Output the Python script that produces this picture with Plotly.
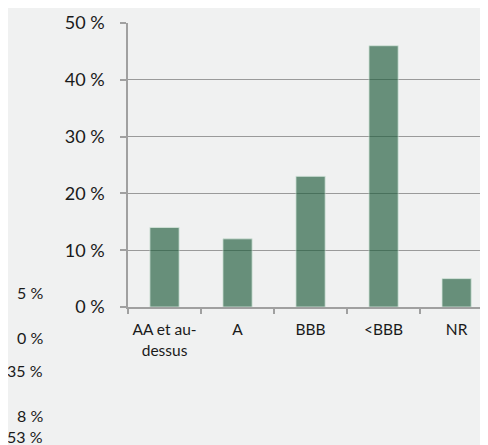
import plotly.graph_objects as go

categories = ["AA et au-<br>dessus", "A", "BBB", "<BBB", "NR"]
values = [14, 12, 23, 46, 5]
y_ticks = [0, 10, 20, 30, 40, 50]
y_tick_labels = [f"{v} %" for v in y_ticks]

# Extra labels appearing at the left edge of the picture
side_labels = ["5 %", "0 %", "35 %", "8 %", "53 %"]
side_label_y_px = [292, 337, 370, 415, 436]

# The page body has an 8px margin; the figure is sized to fill the window
OFF = 8
W, H = 488 - OFF, 445 - OFF
L, T = 128 - OFF, 23 - OFF
B = H - (307 - OFF)
plot_h = H - T - B

FONT = "Lato"
TXT = "#1a1a1a"

fig = go.Figure(
    go.Bar(
        x=categories,
        y=values,
        marker=dict(color="rgb(30,92,60)", opacity=0.65,
                    line=dict(color="rgba(200,225,210,0.8)", width=1)),
        width=0.4,
    )
)

fig.update_layout(
    width=W, height=H,
    margin=dict(l=L, r=0, t=T, b=B, pad=0),
    paper_bgcolor="#f0f1f1",
    plot_bgcolor="#f0f1f1",
    showlegend=False,
    font=dict(family=FONT, size=16, color=TXT),
)

fig.update_xaxes(
    range=[-0.5, 4.43],
    tickson="boundaries",
    tickangle=0,
    ticks="outside", ticklen=5, tickcolor="#a0a0a0", tickwidth=1.5,
    showline=True, linecolor="#a0a0a0", linewidth=1.5,
    showgrid=False,
    tickfont=dict(family=FONT, size=15.5, color=TXT),
    ticklabelstandoff=8,
)

fig.update_yaxes(
    range=[0, 50],
    tickvals=y_ticks, ticktext=y_tick_labels,
    ticks="outside", ticklen=6, tickcolor="#a0a0a0", tickwidth=1.5,
    showline=True, linecolor="#a0a0a0", linewidth=1.5,
    showgrid=True, gridcolor="#9a9a9a", gridwidth=1,
    zeroline=False,
    tickfont=dict(family=FONT, size=18, color=TXT),
    ticklabelstandoff=12,
)

for txt, ypx in zip(side_labels, side_label_y_px):
    fig.add_annotation(
        text=txt, xref="paper", yref="paper",
        x=(45 - 128) / (W - L), y=(307 - ypx) / plot_h,
        xanchor="right", yanchor="middle", showarrow=False,
        font=dict(family=FONT, size=16, color=TXT),
    )

fig.write_html("out.html")
